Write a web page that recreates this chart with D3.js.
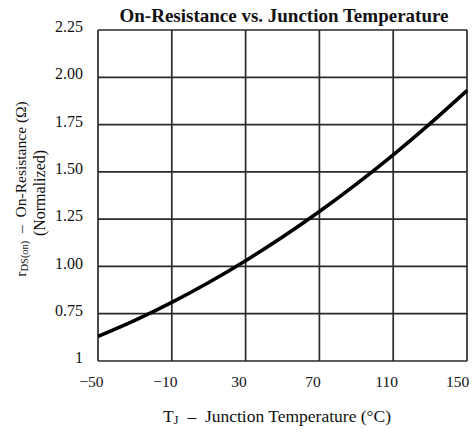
<!DOCTYPE html>
<html><head><meta charset="utf-8">
<script src="https://cdn.jsdelivr.net/npm/d3@7"></script>
<style>
body{margin:0;background:#fff;}
svg text{font-family:"Liberation Serif","Times New Roman",serif;fill:#111;}
</style></head>
<body><svg id="c" width="472" height="432"></svg>
<script>
const temps = [-50, -30, -10, 10, 30, 50, 70, 90, 110, 130, 150];
const resist = [0.63, 0.715, 0.81, 0.915, 1.03, 1.155, 1.29, 1.435, 1.59, 1.755, 1.93];
const xTicks = [-50, -10, 30, 70, 110, 150];
const xTickLabels = ["\u221250", "\u221210", "30", "70", "110", "150"];
const yTicks = [0.5, 0.75, 1.0, 1.25, 1.5, 1.75, 2.0, 2.25];
const yTickLabels = ["1", "0.75", "1.00", "1.25", "1.50", "1.75", "2.00", "2.25"];
const title = "On-Resistance vs. Junction Temperature";

const svg = d3.select("#c");
const m = {l: 98, r: 467, t: 30, b: 361};
const x = d3.scaleLinear().domain([-50, 150]).range([m.l, m.r]);
const y = d3.scaleLinear().domain([0.5, 2.25]).range([m.b, m.t]);

// grid
const g = svg.append("g");
g.selectAll("line.v").data(xTicks).join("line")
  .attr("x1", d => x(d)).attr("x2", d => x(d)).attr("y1", m.t).attr("y2", m.b)
  .attr("stroke", "#2a2a2a").attr("stroke-width", 1.7);
g.selectAll("line.h").data(yTicks).join("line")
  .attr("y1", d => y(d)).attr("y2", d => y(d)).attr("x1", m.l).attr("x2", m.r)
  .attr("stroke", "#2a2a2a").attr("stroke-width", 1.7);

// axes labels
const xa = d3.axisBottom(x).tickValues(xTicks).tickSize(0).tickPadding(15)
  .tickFormat((d, i) => xTickLabels[i]);
const xg = svg.append("g").attr("transform", `translate(0,${m.b})`).call(xa);
xg.select(".domain").remove();
xg.selectAll("text").attr("font-size", 15.5).attr("dx", -7);
xg.selectAll("text").filter((d, i) => i === xTicks.length - 1).attr("dx", -10);

const ya = d3.axisLeft(y).tickValues(yTicks).tickSize(0).tickPadding(15)
  .tickFormat((d, i) => yTickLabels[i]);
const yg = svg.append("g").attr("transform", `translate(${m.l},0)`).call(ya);
yg.select(".domain").remove();
yg.selectAll("text").attr("font-size", 16).attr("dy", "0.1em");

// curve
const line = d3.line().x((d, i) => x(temps[i])).y(d => y(d)).curve(d3.curveNatural);
svg.append("path").datum(resist).attr("d", line)
  .attr("fill", "none").attr("stroke", "#000").attr("stroke-width", 3.6);

// title
svg.append("text").attr("x", 284).attr("y", 22).attr("text-anchor", "middle")
  .attr("font-size", 19).attr("font-weight", "bold").text(title);

// x title
const xt = svg.append("text").attr("x", 277).attr("y", 422).attr("text-anchor", "middle")
  .attr("font-size", 17.5).style("white-space", "pre");
xt.append("tspan").text("T");
xt.append("tspan").attr("font-size", 13).attr("dy", 2).text("J");
xt.append("tspan").attr("dy", -2).text("  \u2013  Junction Temperature (\u00B0C)");

// y title
const yt = svg.append("text").attr("transform", "translate(26,189) rotate(-90)")
  .attr("text-anchor", "middle").attr("font-size", 15.5).style("white-space", "pre");
yt.append("tspan").text("r");
yt.append("tspan").attr("font-size", 10.5).attr("dy", 2).text("DS(on)");
yt.append("tspan").attr("dy", -2).text("  \u2013  On-Resistance (\u03A9)");
svg.append("text").attr("transform", "translate(45,193) rotate(-90)")
  .attr("text-anchor", "middle").attr("font-size", 16).text("(Normalized)");
</script></body></html>
